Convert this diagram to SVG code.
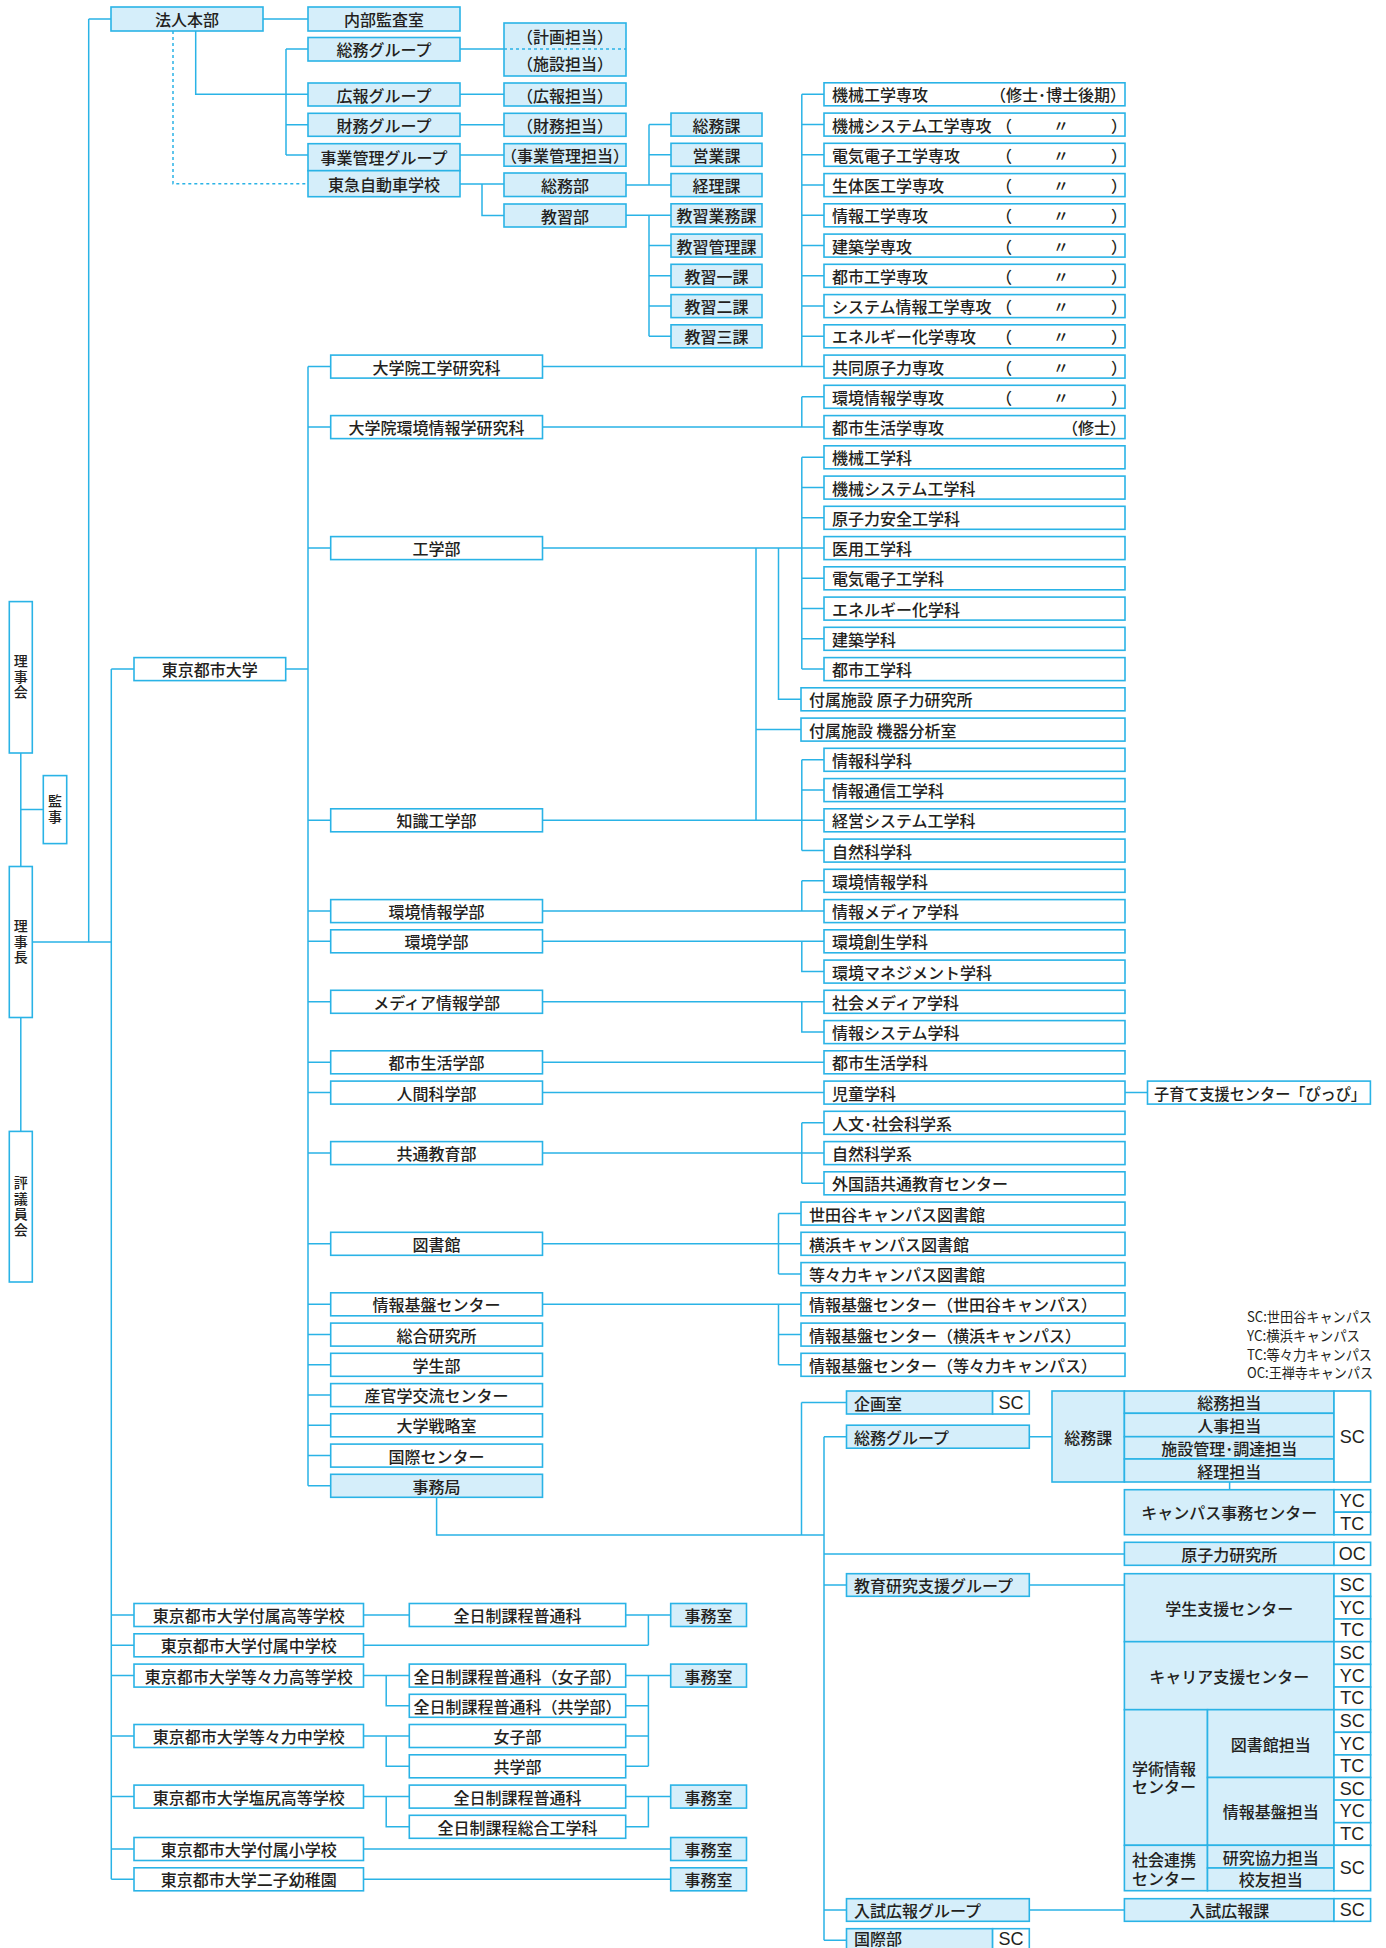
<svg xmlns="http://www.w3.org/2000/svg" width="1386" height="1948" viewBox="0 0 1386 1948">
<style>
.b{fill:#fff;stroke:#2AB3E6;stroke-width:1.6}
.f{fill:#D5EEFA;stroke:#2AB3E6;stroke-width:1.6}
.t{font-family:"Noto Sans CJK JP","Noto Sans",sans-serif;font-size:16px;font-weight:500;fill:#231F20;dominant-baseline:central}
.vt{font-family:"Noto Sans CJK JP","Noto Sans",sans-serif;font-size:14px;font-weight:500;fill:#231F20;writing-mode:vertical-rl;text-anchor:middle;letter-spacing:1.5px}
.g{font-size:14px;font-weight:400}
.a{font-family:"Liberation Sans",Arial,sans-serif;font-size:18px;font-weight:400}
.c{text-anchor:middle}
.l{fill:none;stroke:#2AB3E6;stroke-width:1.5}
.d{stroke-dasharray:3 3}
</style>
<rect width="1386" height="1948" fill="#fff"/>
<g id="connectors" class="l">
<path d="M88.7,19H111M88.7,19V942M263,19H308"/>
<path d="M195.7,31V94.3H308"/>
<path class="d" d="M173,31V183.7H308"/>
<path d="M286,49V155M286,49H308M286,124.8H308M286,155H308"/>
<path d="M460,49H504M460,94.3H504M460,124.8H504M460,155H504"/>
<path d="M460,184H504M482,184V215.5H504"/>
<path d="M626,185H671M649,185V124.6M649,124.6H671M649,154.8H671"/>
<path d="M626,215.3H671M649,215.3V336.3M649,245.6H671M649,275.8H671M649,306.1H671M649,336.3H671"/>
<path d="M542.5,366.6H824M801.8,94.3V366.6M801.8,94.3H824M801.8,124.6H824M801.8,154.8H824M801.8,185.1H824M801.8,215.3H824M801.8,245.6H824M801.8,275.8H824M801.8,306.1H824M801.8,336.3H824"/>
<path d="M542.5,427.1H824M801.8,396.8V427.1M801.8,396.8H824"/>
<path d="M542.5,548.1H824M801.8,457.3V669.1M801.8,457.3H824M801.8,487.6H824M801.8,517.8H824M801.8,578.3H824M801.8,608.6H824M801.8,638.8H824M801.8,669.1H824"/>
<path d="M778.5,548.1V699.3H801M756,548.1V820.3M756,729.6H801"/>
<path d="M542.5,820.3H824M801.8,759.8V850.6M801.8,759.8H824M801.8,790.1H824M801.8,850.6H824"/>
<path d="M542.5,911.1H824M801.8,880.8V911.1M801.8,880.8H824"/>
<path d="M542.5,941.3H824M801.8,941.3V971.6H824"/>
<path d="M542.5,1001.8H824M801.8,1001.8V1032.1H824"/>
<path d="M542.5,1062.3H824M542.5,1092.6H824M1125,1092.6H1147.5"/>
<path d="M542.5,1153.1H824M801.8,1122.8V1183.3M801.8,1122.8H824M801.8,1183.3H824"/>
<path d="M542.5,1243.8H801M778.5,1213.6V1274.1M778.5,1213.6H801M778.5,1274.1H801"/>
<path d="M542.5,1304.3H801M778.5,1304.3V1364.8M778.5,1334.6H801M778.5,1364.8H801"/>
<path d="M20.8,753V866.5M20.8,809.5H43.3M20.8,1017.5V1131.4M32.3,942H111.3"/>
<path d="M111.3,669.1V1879.3M111.3,669.1H134M285.7,669.1H308"/>
<path d="M308,366.6V1485.8M308,366.6H330.7M308,427.1H330.7M308,548.1H330.7M308,820.3H330.7M308,911.1H330.7M308,941.3H330.7M308,1001.8H330.7M308,1062.3H330.7M308,1092.6H330.7M308,1153.1H330.7M308,1243.8H330.7M308,1304.3H330.7M308,1334.6H330.7M308,1364.8H330.7M308,1395.1H330.7M308,1425.3H330.7M308,1455.6H330.7M308,1485.8H330.7"/>
<path d="M436.6,1497.3V1535H824M801.5,1402.5V1535M801.5,1402.5H846.5M824,1436.7V1940.3M824,1436.7H846.5M824,1585H846.5M824,1910H846.5M824,1940.3H846.5M824,1554H1124.4M1029.3,1436.7H1052M1029.3,1585H1124.4M1029.3,1910H1124.4M1229.6,1482V1489.7"/>
<path d="M111.3,1615H134M111.3,1645.3H134M111.3,1675.6H134M111.3,1736H134M111.3,1796.6H134M111.3,1849H134M111.3,1879.3H134"/>
<path d="M363.5,1615H409.3M625.7,1615H670.7M648.4,1615V1645.3M363.5,1645.3H648.4"/>
<path d="M363.5,1675.6H409.3M386.2,1675.6V1705.8H409.3M625.7,1675.6H670.7M648.4,1675.6V1766.3M625.7,1705.8H648.4M625.7,1736H648.4M625.7,1766.3H648.4"/>
<path d="M363.5,1736H409.3M386.2,1736V1766.3H409.3"/>
<path d="M363.5,1796.6H409.3M386.2,1796.6V1826.8H409.3M625.7,1796.6H670.7M648.4,1796.6V1826.8H625.7"/>
<path d="M363.5,1849H670.7M363.5,1879.3H670.7"/>
</g>

<g id="n-rijikai"><rect class="b" x="9.3" y="601.6" width="23" height="151.4"/><text class="vt" x="20.8" y="677.3">理事会</text></g>
<g id="n-kanji"><rect class="b" x="43.3" y="775.6" width="23.4" height="68"/><text class="vt" x="55" y="809.5">監事</text></g>
<g id="n-rijicho"><rect class="b" x="9.3" y="866.5" width="23" height="151"/><text class="vt" x="20.8" y="942">理事長</text></g>
<g id="n-hyogiin"><rect class="b" x="9.3" y="1131.4" width="23" height="150.6"/><text class="vt" x="20.8" y="1206.7">評議員会</text></g>

<g id="n-hojin"><rect class="f" x="111" y="7" width="152" height="24"/><text class="t c" x="187" y="19">法人本部</text></g>
<g id="n-naibu"><rect class="f" x="308" y="7" width="152" height="24"/><text class="t c" x="384" y="19">内部監査室</text></g>
<g id="n-somu-g"><rect class="f" x="308" y="37.5" width="152" height="23.5"/><text class="t c" x="384" y="49.2">総務グループ</text></g>
<g id="n-keikaku"><rect class="f" x="504" y="23" width="122" height="53"/><path class="l d" d="M504,49H626"/><text class="t c" x="565" y="36">（計画担当）</text><text class="t c" x="565" y="62.5">（施設担当）</text></g>
<g id="n-koho-g"><rect class="f" x="308" y="83" width="152" height="23"/><text class="t c" x="384" y="94.5">広報グループ</text></g>
<g id="n-koho-t"><rect class="f" x="504" y="83" width="122" height="23"/><text class="t c" x="565" y="94.5">（広報担当）</text></g>
<g id="n-zaimu-g"><rect class="f" x="308" y="113.3" width="152" height="23"/><text class="t c" x="384" y="124.8">財務グループ</text></g>
<g id="n-zaimu-t"><rect class="f" x="504" y="113.3" width="122" height="23"/><text class="t c" x="565" y="124.8">（財務担当）</text></g>
<g id="n-jigyo-g"><rect class="f" x="308" y="143.7" width="152" height="27"/><text class="t c" x="384" y="157">事業管理グループ</text></g>
<g id="n-jigyo-t"><rect class="f" x="504" y="143.7" width="122" height="22.5"/><text class="t c" x="565" y="155">（事業管理担当）</text></g>
<g id="n-tokyu"><rect class="f" x="308" y="170.7" width="152" height="26"/><text class="t c" x="384" y="183.7">東急自動車学校</text></g>
<g id="n-somubu"><rect class="f" x="504" y="173" width="122" height="23.5"/><text class="t c" x="565" y="184.8">総務部</text></g>
<g id="n-kyoshubu"><rect class="f" x="504" y="204" width="122" height="23"/><text class="t c" x="565" y="215.5">教習部</text></g>
<g id="n-somuka"><rect class="f" x="671" y="113.1" width="91" height="23"/><text class="t c" x="716.5" y="124.6">総務課</text></g>
<g id="n-eigyoka"><rect class="f" x="671" y="143.3" width="91" height="23"/><text class="t c" x="716.5" y="154.8">営業課</text></g>
<g id="n-keirika"><rect class="f" x="671" y="173.6" width="91" height="23"/><text class="t c" x="716.5" y="185.1">経理課</text></g>
<g id="n-kg1"><rect class="f" x="671" y="203.8" width="91" height="23"/><text class="t c" x="716.5" y="215.3">教習業務課</text></g>
<g id="n-kg2"><rect class="f" x="671" y="234.1" width="91" height="23"/><text class="t c" x="716.5" y="245.6">教習管理課</text></g>
<g id="n-kg3"><rect class="f" x="671" y="264.3" width="91" height="23"/><text class="t c" x="716.5" y="275.8">教習一課</text></g>
<g id="n-kg4"><rect class="f" x="671" y="294.6" width="91" height="23"/><text class="t c" x="716.5" y="306.1">教習二課</text></g>
<g id="n-kg5"><rect class="f" x="671" y="324.8" width="91" height="23"/><text class="t c" x="716.5" y="336.3">教習三課</text></g>

<g id="n-s1"><rect class="b" x="824" y="82.8" width="301" height="23"/><text class="t" y="94.3"><tspan x="832">機械工学専攻</tspan><tspan x="990">（修士･博士後期）</tspan></text></g>
<g id="n-s2"><rect class="b" x="824" y="113.1" width="301" height="23"/><text class="t" y="124.6"><tspan x="832">機械システム工学専攻</tspan><tspan x="996">（</tspan><tspan x="1053">〃</tspan><tspan x="1111">）</tspan></text></g>
<g id="n-s3"><rect class="b" x="824" y="143.3" width="301" height="23"/><text class="t" y="154.8"><tspan x="832">電気電子工学専攻</tspan><tspan x="996">（</tspan><tspan x="1053">〃</tspan><tspan x="1111">）</tspan></text></g>
<g id="n-s4"><rect class="b" x="824" y="173.6" width="301" height="23"/><text class="t" y="185.1"><tspan x="832">生体医工学専攻</tspan><tspan x="996">（</tspan><tspan x="1053">〃</tspan><tspan x="1111">）</tspan></text></g>
<g id="n-s5"><rect class="b" x="824" y="203.8" width="301" height="23"/><text class="t" y="215.3"><tspan x="832">情報工学専攻</tspan><tspan x="996">（</tspan><tspan x="1053">〃</tspan><tspan x="1111">）</tspan></text></g>
<g id="n-s6"><rect class="b" x="824" y="234.1" width="301" height="23"/><text class="t" y="245.6"><tspan x="832">建築学専攻</tspan><tspan x="996">（</tspan><tspan x="1053">〃</tspan><tspan x="1111">）</tspan></text></g>
<g id="n-s7"><rect class="b" x="824" y="264.3" width="301" height="23"/><text class="t" y="275.8"><tspan x="832">都市工学専攻</tspan><tspan x="996">（</tspan><tspan x="1053">〃</tspan><tspan x="1111">）</tspan></text></g>
<g id="n-s8"><rect class="b" x="824" y="294.6" width="301" height="23"/><text class="t" y="306.1"><tspan x="832">システム情報工学専攻</tspan><tspan x="996">（</tspan><tspan x="1053">〃</tspan><tspan x="1111">）</tspan></text></g>
<g id="n-s9"><rect class="b" x="824" y="324.8" width="301" height="23"/><text class="t" y="336.3"><tspan x="832">エネルギー化学専攻</tspan><tspan x="996">（</tspan><tspan x="1053">〃</tspan><tspan x="1111">）</tspan></text></g>
<g id="n-s10"><rect class="b" x="824" y="355.1" width="301" height="23"/><text class="t" y="366.6"><tspan x="832">共同原子力専攻</tspan><tspan x="996">（</tspan><tspan x="1053">〃</tspan><tspan x="1111">）</tspan></text></g>
<g id="n-s11"><rect class="b" x="824" y="385.3" width="301" height="23"/><text class="t" y="396.8"><tspan x="832">環境情報学専攻</tspan><tspan x="996">（</tspan><tspan x="1053">〃</tspan><tspan x="1111">）</tspan></text></g>
<g id="n-s12"><rect class="b" x="824" y="415.6" width="301" height="23"/><text class="t" y="427.1"><tspan x="832">都市生活学専攻</tspan><tspan x="1062">（修士）</tspan></text></g>

<g id="n-k1"><rect class="b" x="824" y="445.8" width="301" height="23"/><text class="t" x="832" y="457.3">機械工学科</text></g>
<g id="n-k2"><rect class="b" x="824" y="476.1" width="301" height="23"/><text class="t" x="832" y="487.6">機械システム工学科</text></g>
<g id="n-k3"><rect class="b" x="824" y="506.3" width="301" height="23"/><text class="t" x="832" y="517.8">原子力安全工学科</text></g>
<g id="n-k4"><rect class="b" x="824" y="536.6" width="301" height="23"/><text class="t" x="832" y="548.1">医用工学科</text></g>
<g id="n-k5"><rect class="b" x="824" y="566.8" width="301" height="23"/><text class="t" x="832" y="578.3">電気電子工学科</text></g>
<g id="n-k6"><rect class="b" x="824" y="597.1" width="301" height="23"/><text class="t" x="832" y="608.6">エネルギー化学科</text></g>
<g id="n-k7"><rect class="b" x="824" y="627.3" width="301" height="23"/><text class="t" x="832" y="638.8">建築学科</text></g>
<g id="n-k8"><rect class="b" x="824" y="657.6" width="301" height="23"/><text class="t" x="832" y="669.1">都市工学科</text></g>
<g id="n-f1"><rect class="b" x="801" y="687.8" width="324" height="23"/><text class="t" x="809" y="699.3">付属施設 原子力研究所</text></g>
<g id="n-f2"><rect class="b" x="801" y="718.1" width="324" height="23"/><text class="t" x="809" y="729.6">付属施設 機器分析室</text></g>
<g id="n-k9"><rect class="b" x="824" y="748.3" width="301" height="23"/><text class="t" x="832" y="759.8">情報科学科</text></g>
<g id="n-k10"><rect class="b" x="824" y="778.6" width="301" height="23"/><text class="t" x="832" y="790.1">情報通信工学科</text></g>
<g id="n-k11"><rect class="b" x="824" y="808.8" width="301" height="23"/><text class="t" x="832" y="820.3">経営システム工学科</text></g>
<g id="n-k12"><rect class="b" x="824" y="839.1" width="301" height="23"/><text class="t" x="832" y="850.6">自然科学科</text></g>
<g id="n-k13"><rect class="b" x="824" y="869.3" width="301" height="23"/><text class="t" x="832" y="880.8">環境情報学科</text></g>
<g id="n-k14"><rect class="b" x="824" y="899.6" width="301" height="23"/><text class="t" x="832" y="911.1">情報メディア学科</text></g>
<g id="n-k15"><rect class="b" x="824" y="929.8" width="301" height="23"/><text class="t" x="832" y="941.3">環境創生学科</text></g>
<g id="n-k16"><rect class="b" x="824" y="960.1" width="301" height="23"/><text class="t" x="832" y="971.6">環境マネジメント学科</text></g>
<g id="n-k17"><rect class="b" x="824" y="990.3" width="301" height="23"/><text class="t" x="832" y="1001.8">社会メディア学科</text></g>
<g id="n-k18"><rect class="b" x="824" y="1020.6" width="301" height="23"/><text class="t" x="832" y="1032.1">情報システム学科</text></g>
<g id="n-k19"><rect class="b" x="824" y="1050.8" width="301" height="23"/><text class="t" x="832" y="1062.3">都市生活学科</text></g>
<g id="n-k20"><rect class="b" x="824" y="1081.1" width="301" height="23"/><text class="t" x="832" y="1092.6">児童学科</text></g>
<g id="n-pippi"><rect class="b" x="1147.5" y="1081.1" width="222.9" height="23"/><text class="t" x="1154" y="1092.6" textLength="212" lengthAdjust="spacingAndGlyphs">子育て支援センター「ぴっぴ」</text></g>
<g id="n-k21"><rect class="b" x="824" y="1111.3" width="301" height="23"/><text class="t" x="832" y="1122.8">人文･社会科学系</text></g>
<g id="n-k22"><rect class="b" x="824" y="1141.6" width="301" height="23"/><text class="t" x="832" y="1153.1">自然科学系</text></g>
<g id="n-k23"><rect class="b" x="824" y="1171.8" width="301" height="23"/><text class="t" x="832" y="1183.3">外国語共通教育センター</text></g>
<g id="n-lib1"><rect class="b" x="801" y="1202.1" width="324" height="23"/><text class="t" x="809" y="1213.6">世田谷キャンパス図書館</text></g>
<g id="n-lib2"><rect class="b" x="801" y="1232.3" width="324" height="23"/><text class="t" x="809" y="1243.8">横浜キャンパス図書館</text></g>
<g id="n-lib3"><rect class="b" x="801" y="1262.6" width="324" height="23"/><text class="t" x="809" y="1274.1">等々力キャンパス図書館</text></g>
<g id="n-ic1"><rect class="b" x="801" y="1292.8" width="324" height="23"/><text class="t" x="809" y="1304.3">情報基盤センター（世田谷キャンパス）</text></g>
<g id="n-ic2"><rect class="b" x="801" y="1323.1" width="324" height="23"/><text class="t" x="809" y="1334.6">情報基盤センター（横浜キャンパス）</text></g>
<g id="n-ic3"><rect class="b" x="801" y="1353.3" width="324" height="23"/><text class="t" x="809" y="1364.8">情報基盤センター（等々力キャンパス）</text></g>

<g id="legend"><text class="t g" x="1247" y="1315.7" textLength="125" lengthAdjust="spacingAndGlyphs">SC:世田谷キャンパス</text><text class="t g" x="1247" y="1334.7" textLength="113" lengthAdjust="spacingAndGlyphs">YC:横浜キャンパス</text><text class="t g" x="1247" y="1353.7" textLength="125" lengthAdjust="spacingAndGlyphs">TC:等々力キャンパス</text><text class="t g" x="1247" y="1372.3" textLength="126" lengthAdjust="spacingAndGlyphs">OC:王禅寺キャンパス</text></g>

<g id="n-tcu"><rect class="b" x="134" y="657.6" width="151.7" height="23"/><text class="t c" x="209.8" y="669.1">東京都市大学</text></g>
<g id="n-d1"><rect class="b" x="330.7" y="355.1" width="211.8" height="23"/><text class="t c" x="436.6" y="366.6">大学院工学研究科</text></g>
<g id="n-d2"><rect class="b" x="330.7" y="415.6" width="211.8" height="23"/><text class="t c" x="436.6" y="427.1">大学院環境情報学研究科</text></g>
<g id="n-d3"><rect class="b" x="330.7" y="536.6" width="211.8" height="23"/><text class="t c" x="436.6" y="548.1">工学部</text></g>
<g id="n-d4"><rect class="b" x="330.7" y="808.8" width="211.8" height="23"/><text class="t c" x="436.6" y="820.3">知識工学部</text></g>
<g id="n-d5"><rect class="b" x="330.7" y="899.6" width="211.8" height="23"/><text class="t c" x="436.6" y="911.1">環境情報学部</text></g>
<g id="n-d6"><rect class="b" x="330.7" y="929.8" width="211.8" height="23"/><text class="t c" x="436.6" y="941.3">環境学部</text></g>
<g id="n-d7"><rect class="b" x="330.7" y="990.3" width="211.8" height="23"/><text class="t c" x="436.6" y="1001.8">メディア情報学部</text></g>
<g id="n-d8"><rect class="b" x="330.7" y="1050.8" width="211.8" height="23"/><text class="t c" x="436.6" y="1062.3">都市生活学部</text></g>
<g id="n-d9"><rect class="b" x="330.7" y="1081.1" width="211.8" height="23"/><text class="t c" x="436.6" y="1092.6">人間科学部</text></g>
<g id="n-d10"><rect class="b" x="330.7" y="1141.6" width="211.8" height="23"/><text class="t c" x="436.6" y="1153.1">共通教育部</text></g>
<g id="n-d11"><rect class="b" x="330.7" y="1232.3" width="211.8" height="23"/><text class="t c" x="436.6" y="1243.8">図書館</text></g>
<g id="n-d12"><rect class="b" x="330.7" y="1292.8" width="211.8" height="23"/><text class="t c" x="436.6" y="1304.3">情報基盤センター</text></g>
<g id="n-d13"><rect class="b" x="330.7" y="1323.1" width="211.8" height="23"/><text class="t c" x="436.6" y="1334.6">総合研究所</text></g>
<g id="n-d14"><rect class="b" x="330.7" y="1353.3" width="211.8" height="23"/><text class="t c" x="436.6" y="1364.8">学生部</text></g>
<g id="n-d15"><rect class="b" x="330.7" y="1383.6" width="211.8" height="23"/><text class="t c" x="436.6" y="1395.1">産官学交流センター</text></g>
<g id="n-d16"><rect class="b" x="330.7" y="1413.8" width="211.8" height="23"/><text class="t c" x="436.6" y="1425.3">大学戦略室</text></g>
<g id="n-d17"><rect class="b" x="330.7" y="1444.1" width="211.8" height="23"/><text class="t c" x="436.6" y="1455.6">国際センター</text></g>
<g id="n-d18"><rect class="f" x="330.7" y="1474.3" width="211.8" height="23"/><text class="t c" x="436.6" y="1485.8">事務局</text></g>

<g id="n-kikaku"><rect class="f" x="846.5" y="1391" width="146.1" height="23"/><rect class="b" x="992.6" y="1391" width="36.7" height="23"/><text class="t" x="854" y="1402.5">企画室</text><text class="t a c" x="1011" y="1402.5">SC</text></g>
<g id="n-somu-g2"><rect class="f" x="846.5" y="1425.2" width="182.8" height="23"/><text class="t" x="854" y="1436.7">総務グループ</text></g>
<g id="n-somuka2"><rect class="f" x="1052" y="1391" width="72.4" height="91"/><rect class="f" x="1124.4" y="1391" width="209.6" height="22.3"/><rect class="f" x="1124.4" y="1413.3" width="209.6" height="23.4"/><rect class="f" x="1124.4" y="1436.7" width="209.6" height="22.3"/><rect class="f" x="1124.4" y="1459" width="209.6" height="23"/><rect class="b" x="1334" y="1391" width="36.6" height="91"/><text class="t c" x="1088.2" y="1436.5">総務課</text><text class="t c" x="1229.2" y="1402.2">総務担当</text><text class="t c" x="1229.2" y="1425">人事担当</text><text class="t c" x="1229.2" y="1447.8">施設管理･調達担当</text><text class="t c" x="1229.2" y="1470.5">経理担当</text><text class="t a c" x="1352.3" y="1436.5">SC</text></g>
<g id="n-campus"><rect class="f" x="1124.4" y="1489.7" width="209.6" height="45"/><rect class="b" x="1334" y="1489.7" width="36.6" height="22.5"/><rect class="b" x="1334" y="1512.2" width="36.6" height="22.5"/><text class="t c" x="1229.2" y="1512.2">キャンパス事務センター</text><text class="t a c" x="1352.3" y="1501">YC</text><text class="t a c" x="1352.3" y="1523.5">TC</text></g>
<g id="n-genshi"><rect class="f" x="1124.4" y="1542.3" width="209.6" height="23"/><rect class="b" x="1334" y="1542.3" width="36.6" height="23"/><text class="t c" x="1229.2" y="1553.8">原子力研究所</text><text class="t a c" x="1352.3" y="1553.8">OC</text></g>
<g id="n-kyoiku-g"><rect class="f" x="846.5" y="1573.7" width="182.8" height="22.6"/><text class="t" x="854" y="1585">教育研究支援グループ</text></g>
<g id="n-gakusei"><rect class="f" x="1124.4" y="1573.7" width="209.6" height="68"/><rect class="b" x="1334" y="1573.7" width="36.6" height="22.7"/><rect class="b" x="1334" y="1596.4" width="36.6" height="22.6"/><rect class="b" x="1334" y="1619" width="36.6" height="22.7"/><text class="t c" x="1229.2" y="1607.7">学生支援センター</text><text class="t a c" x="1352.3" y="1585">SC</text><text class="t a c" x="1352.3" y="1607.7">YC</text><text class="t a c" x="1352.3" y="1630.3">TC</text></g>
<g id="n-career"><rect class="f" x="1124.4" y="1641.7" width="209.6" height="68"/><rect class="b" x="1334" y="1641.7" width="36.6" height="22.7"/><rect class="b" x="1334" y="1664.4" width="36.6" height="22.6"/><rect class="b" x="1334" y="1687" width="36.6" height="22.7"/><text class="t c" x="1229.2" y="1675.7">キャリア支援センター</text><text class="t a c" x="1352.3" y="1653">SC</text><text class="t a c" x="1352.3" y="1675.7">YC</text><text class="t a c" x="1352.3" y="1698.3">TC</text></g>
<g id="n-gakujutsu"><rect class="f" x="1124.4" y="1709.7" width="83.1" height="135.6"/><rect class="f" x="1207.5" y="1709.7" width="126.5" height="67.8"/><rect class="f" x="1207.5" y="1777.5" width="126.5" height="67.8"/><rect class="b" x="1334" y="1709.7" width="36.6" height="22.6"/><rect class="b" x="1334" y="1732.3" width="36.6" height="22.6"/><rect class="b" x="1334" y="1754.9" width="36.6" height="22.6"/><rect class="b" x="1334" y="1777.5" width="36.6" height="22.6"/><rect class="b" x="1334" y="1800.1" width="36.6" height="22.6"/><rect class="b" x="1334" y="1822.7" width="36.6" height="22.6"/><text class="t"><tspan x="1132" y="1767.5">学術情報</tspan><tspan x="1132" y="1786">センター</tspan></text><text class="t c" x="1270.7" y="1743.6">図書館担当</text><text class="t c" x="1270.7" y="1811.4">情報基盤担当</text><text class="t a c" x="1352.3" y="1721">SC</text><text class="t a c" x="1352.3" y="1743.6">YC</text><text class="t a c" x="1352.3" y="1766.2">TC</text><text class="t a c" x="1352.3" y="1788.8">SC</text><text class="t a c" x="1352.3" y="1811.4">YC</text><text class="t a c" x="1352.3" y="1834">TC</text></g>
<g id="n-shakai"><rect class="f" x="1124.4" y="1845.3" width="83.1" height="45.4"/><rect class="f" x="1207.5" y="1845.3" width="126.5" height="22.7"/><rect class="f" x="1207.5" y="1868" width="126.5" height="22.7"/><rect class="b" x="1334" y="1845.3" width="36.6" height="45.4"/><text class="t"><tspan x="1132" y="1859">社会連携</tspan><tspan x="1132" y="1877.7">センター</tspan></text><text class="t c" x="1270.7" y="1856.6">研究協力担当</text><text class="t c" x="1270.7" y="1879.3">校友担当</text><text class="t a c" x="1352.3" y="1868">SC</text></g>
<g id="n-nyushi-g"><rect class="f" x="846.5" y="1898.7" width="182.8" height="22.6"/><text class="t" x="854" y="1910">入試広報グループ</text></g>
<g id="n-nyushi-ka"><rect class="f" x="1124.4" y="1898.7" width="209.6" height="22.6"/><rect class="b" x="1334" y="1898.7" width="36.6" height="22.6"/><text class="t c" x="1229.2" y="1910">入試広報課</text><text class="t a c" x="1352.3" y="1910">SC</text></g>
<g id="n-kokusai"><rect class="f" x="846.5" y="1928.7" width="146.1" height="23"/><rect class="b" x="992.6" y="1928.7" width="36.7" height="23"/><text class="t" x="854" y="1938.3">国際部</text><text class="t a c" x="1011" y="1938.8">SC</text></g>

<g id="n-h1"><rect class="b" x="134" y="1603.5" width="229.5" height="23"/><text class="t c" x="248.8" y="1615">東京都市大学付属高等学校</text></g>
<g id="n-h1a"><rect class="b" x="409.3" y="1603.5" width="216.4" height="23"/><text class="t c" x="517.5" y="1615">全日制課程普通科</text></g>
<g id="n-j1"><rect class="b" x="134" y="1633.8" width="229.5" height="23"/><text class="t c" x="248.8" y="1645.3">東京都市大学付属中学校</text></g>
<g id="n-h2"><rect class="b" x="134" y="1664.1" width="229.5" height="23"/><text class="t c" x="248.8" y="1675.6">東京都市大学等々力高等学校</text></g>
<g id="n-h2a"><rect class="b" x="409.3" y="1664.1" width="216.4" height="23"/><text class="t c" x="517.5" y="1675.6">全日制課程普通科（女子部）</text></g>
<g id="n-h2b"><rect class="b" x="409.3" y="1694.3" width="216.4" height="23"/><text class="t c" x="517.5" y="1705.8">全日制課程普通科（共学部）</text></g>
<g id="n-j2"><rect class="b" x="134" y="1724.5" width="229.5" height="23"/><text class="t c" x="248.8" y="1736">東京都市大学等々力中学校</text></g>
<g id="n-j2a"><rect class="b" x="409.3" y="1724.5" width="216.4" height="23"/><text class="t c" x="517.5" y="1736">女子部</text></g>
<g id="n-j2b"><rect class="b" x="409.3" y="1754.8" width="216.4" height="23"/><text class="t c" x="517.5" y="1766.3">共学部</text></g>
<g id="n-h3"><rect class="b" x="134" y="1785.1" width="229.5" height="23"/><text class="t c" x="248.8" y="1796.6">東京都市大学塩尻高等学校</text></g>
<g id="n-h3a"><rect class="b" x="409.3" y="1785.1" width="216.4" height="23"/><text class="t c" x="517.5" y="1796.6">全日制課程普通科</text></g>
<g id="n-h3b"><rect class="b" x="409.3" y="1815.3" width="216.4" height="23"/><text class="t c" x="517.5" y="1826.8">全日制課程総合工学科</text></g>
<g id="n-e1"><rect class="b" x="134" y="1837.5" width="229.5" height="23"/><text class="t c" x="248.8" y="1849">東京都市大学付属小学校</text></g>
<g id="n-k0"><rect class="b" x="134" y="1867.8" width="229.5" height="23"/><text class="t c" x="248.8" y="1879.3">東京都市大学二子幼稚園</text></g>
<g id="n-jm1"><rect class="f" x="670.7" y="1603.5" width="75.8" height="23"/><text class="t c" x="708.6" y="1615">事務室</text></g>
<g id="n-jm2"><rect class="f" x="670.7" y="1664.1" width="75.8" height="23"/><text class="t c" x="708.6" y="1675.6">事務室</text></g>
<g id="n-jm3"><rect class="f" x="670.7" y="1785.1" width="75.8" height="23"/><text class="t c" x="708.6" y="1796.6">事務室</text></g>
<g id="n-jm4"><rect class="f" x="670.7" y="1837.5" width="75.8" height="23"/><text class="t c" x="708.6" y="1849">事務室</text></g>
<g id="n-jm5"><rect class="f" x="670.7" y="1867.8" width="75.8" height="23"/><text class="t c" x="708.6" y="1879.3">事務室</text></g>
</svg>
